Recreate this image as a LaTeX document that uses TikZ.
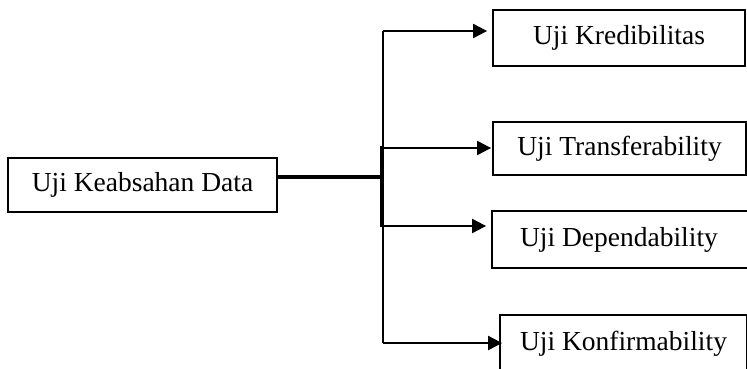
\documentclass[tikz,border=0pt]{standalone}
\usepackage{fontspec}
\setmainfont{Liberation Serif}
\usetikzlibrary{arrows.meta}
\begin{document}
\begin{tikzpicture}[x=1pt,y=-1pt,
  box/.style={draw,line width=1.8pt,inner sep=0pt,font=\fontsize{27.5}{31}\selectfont},
  conn/.style={line width=2pt},
  thickconn/.style={line width=4pt},
  arr/.style={conn,-{Triangle[length=14pt,width=14pt]}}]
\useasboundingbox (0,0) rectangle (747,369);
\clip (0,0) rectangle (747,369);
\node[box,minimum width=269pt,minimum height=54pt] (src) at (142.5,185) {Uji Keabsahan Data};
\node[box,minimum width=252pt,minimum height=56pt] (k) at (619,38) {Uji Kredibilitas};
\node[box,minimum width=253pt,minimum height=53pt] (t) at (619.5,148.5) {Uji Transferability};
\node[box,minimum width=258pt,minimum height=57pt] (d) at (621,239.5) {\hspace*{-4pt}Uji Dependability};
\node[box,minimum width=247pt,minimum height=57pt] (c) at (623.5,343.5) {Uji Konfirmability};
\coordinate (s) at (277,177);
\coordinate (j) at (383,177);
\coordinate (vtop) at (383,31);
\coordinate (vbot) at (383,343);
\coordinate (tk1) at (382,146);
\coordinate (tk2) at (382,227);
\draw[conn] (vtop) -- (vbot);
\draw[thickconn] (tk1) -- (tk2);
\draw[thickconn] (s) -- (j);
\draw[arr,shorten >=5pt] (vtop) -- (vtop -| k.west);
\draw[arr,shorten >=1pt] (383,148) -- (383,148 -| t.west);
\draw[arr,shorten >=5pt] (383,226) -- (383,226 -| d.west);
\draw[arr,shorten >=-3pt] (vbot) -- (vbot -| c.west);
\end{tikzpicture}
\end{document}
